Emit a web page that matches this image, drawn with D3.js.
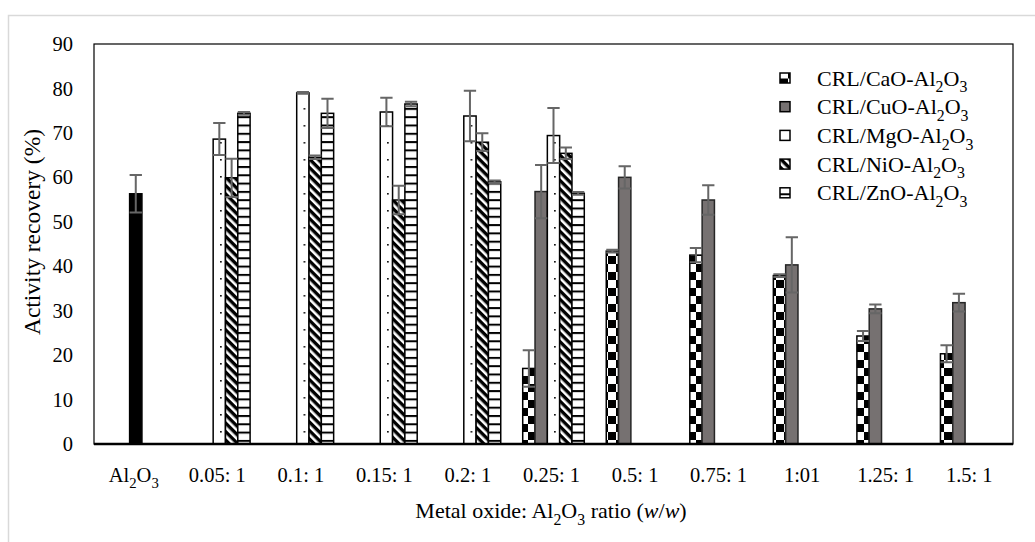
<!DOCTYPE html>
<html>
<head>
<meta charset="utf-8">
<script src="https://cdn.jsdelivr.net/npm/d3@7"></script>
<style>
  body { margin: 0; background: #fff; }
  svg { display: block; font-family: "Liberation Serif", "Times New Roman", serif; }
</style>
</head>
<body>
<div id="chart"></div>
<script>
// categories along the x axis
var categories = ["Al2O3", "0.05: 1", "0.1: 1", "0.15: 1", "0.2: 1", "0.25: 1", "0.5: 1", "0.75: 1", "1:01", "1.25: 1", "1.5: 1"];
var seriesNames = ["CRL/CaO-Al2O3", "CRL/CuO-Al2O3", "CRL/MgO-Al2O3", "CRL/NiO-Al2O3", "CRL/ZnO-Al2O3"];

// activity recovery (%) per series, null = no bar
var caoValues = [null, null, null, null, null, 17.0, 43.4, 42.5, 37.9, 24.3, 20.3];
var caoErrors = [null, null, null, null, null, 4.1, 0.3, 1.6, 0.3, 1.1, 1.9];
var cuoValues = [null, null, null, null, null, 56.8, 60.0, 54.9, 40.3, 30.4, 31.8];
var cuoErrors = [null, null, null, null, null, 6.0, 2.5, 3.3, 6.2, 1.0, 2.0];
var mgoValues = [null, 68.6, 79.0, 74.7, 73.8, 69.4, null, null, null, null, null];
var mgoErrors = [null, 3.6, 0.2, 3.2, 5.7, 6.2, null, null, null, null, null];
var nioValues = [null, 59.9, 64.5, 54.9, 67.9, 65.4, null, null, null, null, null];
var nioErrors = [null, 4.3, 0.4, 3.2, 2.0, 1.3, null, null, null, null, null];
var znoValues = [null, 74.4, 74.4, 76.5, 59.0, 56.4, null, null, null, null, null];
var znoErrors = [null, 0.3, 3.3, 0.5, 0.3, 0.3, null, null, null, null, null];
// plain Al2O3 support
var al2o3Value = 56.3;
var al2o3Error = 4.2;

var yTicks = [0, 10, 20, 30, 40, 50, 60, 70, 80, 90];

var allValues = [caoValues, cuoValues, mgoValues, nioValues, znoValues];
var allErrors = [caoErrors, cuoErrors, mgoErrors, nioErrors, znoErrors];
var fills = ["url(#checker)", "#767171", "url(#dots)", "url(#diag)", "url(#hlines)"];

var w = 1035, h = 542;
var margin = {top: 44, right: 22, bottom: 98, left: 94};

var svg = d3.select("#chart").append("svg")
  .attr("width", w)
  .attr("height", h);

// patterns
var defs = svg.append("defs");
var p = defs.append("pattern").attr("id", "checker").attr("patternUnits", "userSpaceOnUse")
  .attr("width", 16).attr("height", 16);
p.append("rect").attr("width", 16).attr("height", 16).attr("fill", "#fff");
p.append("rect").attr("width", 8).attr("height", 8).attr("fill", "#000");
p.append("rect").attr("x", 8).attr("y", 8).attr("width", 8).attr("height", 8).attr("fill", "#000");

p = defs.append("pattern").attr("id", "dots").attr("patternUnits", "userSpaceOnUse")
  .attr("width", 16.7).attr("height", 17);
p.append("rect").attr("width", 16.7).attr("height", 17).attr("fill", "#fff");
p.append("rect").attr("x", 3).attr("y", 6).attr("width", 1.6).attr("height", 1.6).attr("fill", "#000");

p = defs.append("pattern").attr("id", "diag").attr("patternUnits", "userSpaceOnUse")
  .attr("width", 6).attr("height", 6).attr("patternTransform", "rotate(-45)");
p.append("rect").attr("width", 6).attr("height", 6).attr("fill", "#000");
p.append("rect").attr("width", 2.6).attr("height", 6).attr("fill", "#fff");

p = defs.append("pattern").attr("id", "hlines").attr("patternUnits", "userSpaceOnUse")
  .attr("width", 8).attr("height", 8.3);
p.append("rect").attr("width", 8).attr("height", 8.3).attr("fill", "#fff");
p.append("rect").attr("y", 0).attr("width", 8).attr("height", 2).attr("fill", "#000");

// helper for chemical formulas: a digit after a letter becomes a subscript
function chem(sel, str, fs) {
  var parts = str.split(/(?<=[A-Za-z])(\d)/);
  parts.forEach(function (part, i) {
    if (part === "") return;
    if (i % 2 === 1) {
      sel.append("tspan").attr("dy", fs * 0.3).attr("font-size", fs * 0.72).text(part);
    } else {
      var t = sel.append("tspan").text(part);
      if (i > 0) t.attr("dy", -fs * 0.3);
    }
  });
}

// outer chart border
svg.append("path")
  .attr("d", "M8.5," + h + "V15.5H" + w)
  .attr("fill", "none").attr("stroke", "#d9d9d9").attr("stroke-width", 1.5);

var x0 = d3.scaleBand()
  .domain(categories)
  .range([margin.left, w - margin.right]);

var groupW = x0.bandwidth() * 0.737;
var x1 = d3.scaleBand()
  .domain(seriesNames)
  .range([(x0.bandwidth() - groupW) / 2, (x0.bandwidth() + groupW) / 2]);

var y = d3.scaleLinear()
  .domain([0, 90])
  .range([h - margin.bottom, margin.top]);

// plot frame
svg.append("rect")
  .attr("x", margin.left).attr("y", margin.top)
  .attr("width", w - margin.left - margin.right)
  .attr("height", h - margin.top - margin.bottom)
  .attr("fill", "none").attr("stroke", "#000").attr("stroke-width", 1.2);

// y axis labels
var yAxis = svg.append("g")
  .attr("transform", "translate(" + (margin.left - 21) + ",0)")
  .call(d3.axisLeft(y).tickValues(yTicks).tickSize(0).tickPadding(0));
yAxis.select(".domain").remove();
yAxis.selectAll("text")
  .attr("font-family", "Liberation Serif").attr("font-size", 20.5).attr("fill", "#000");

// bars
var bars = [];
seriesNames.forEach(function (s, si) {
  categories.forEach(function (c, ci) {
    var v = allValues[si][ci];
    if (v == null) return;
    bars.push({cat: c, series: s, value: v, err: allErrors[si][ci], fill: fills[si]});
  });
});

var barG = svg.append("g");
barG.selectAll("rect.bar")
  .data(bars)
  .enter().append("rect")
  .attr("class", "bar")
  .attr("x", function (d) { return x0(d.cat) + x1(d.series); })
  .attr("y", function (d) { return y(d.value); })
  .attr("width", x1.bandwidth())
  .attr("height", function (d) { return y(0) - y(d.value); })
  .attr("fill", function (d) { return d.fill; })
  .attr("stroke", function (d) { return d.fill === "#767171" ? "#262626" : "#000"; })
  .attr("stroke-width", 1.5);

// Al2O3 alone, black bar in the middle slot
var alBar = {cat: categories[0], series: seriesNames[2], value: al2o3Value, err: al2o3Error};
barG.append("rect")
  .attr("x", x0(alBar.cat) + x1(alBar.series))
  .attr("y", y(alBar.value))
  .attr("width", x1.bandwidth())
  .attr("height", y(0) - y(alBar.value))
  .attr("fill", "#000").attr("stroke", "#000").attr("stroke-width", 1.5);

// error bars
var errData = bars.concat([alBar]);
var errG = svg.append("g").attr("stroke", "#666").attr("stroke-width", 2).attr("fill", "none");
errData.forEach(function (d) {
  var cx = x0(d.cat) + x1(d.series) + x1.bandwidth() / 2;
  var hw = x1.bandwidth() / 2;
  var top = y(d.value + d.err), bot = y(d.value - d.err);
  errG.append("path")
    .attr("d", "M" + cx + "," + top + "V" + bot +
      "M" + (cx - hw) + "," + top + "H" + (cx + hw) +
      "M" + (cx - hw) + "," + bot + "H" + (cx + hw));
});

// x axis line
svg.append("line")
  .attr("x1", margin.left).attr("x2", w - margin.right)
  .attr("y1", y(0)).attr("y2", y(0))
  .attr("stroke", "#000").attr("stroke-width", 2.5);

// x tick labels
categories.forEach(function (c) {
  var t = svg.append("text")
    .attr("x", x0(c) + x0.bandwidth() / 2 - 2)
    .attr("y", 482)
    .attr("text-anchor", "middle")
    .attr("font-size", 20.5);
  chem(t, c, 20.5);
});

// axis titles
var xt = svg.append("text")
  .attr("x", 551).attr("y", 518)
  .attr("text-anchor", "middle")
  .attr("font-size", 22);
chem(xt, "Metal oxide: Al2O3 ratio (", 22);
xt.append("tspan").attr("font-style", "italic").text("w");
xt.append("tspan").text("/");
xt.append("tspan").attr("font-style", "italic").text("w");
xt.append("tspan").text(")");

svg.append("text")
  .attr("transform", "translate(40,232) rotate(-90)")
  .attr("text-anchor", "middle")
  .attr("font-size", 23.5)
  .text("Activity recovery (%)");

// legend
var legend = svg.append("g").attr("transform", "translate(780,78.5)");
seriesNames.forEach(function (s, i) {
  var row = legend.append("g").attr("transform", "translate(0," + (i * 28.7) + ")");
  row.append("rect")
    .attr("x", 0).attr("y", -5.5).attr("width", 10).attr("height", 10)
    .attr("fill", fills[i]).attr("stroke", "#000").attr("stroke-width", 1.5);
  var t = row.append("text")
    .attr("x", 37).attr("y", 7)
    .attr("font-size", 22);
  chem(t, s, 22);
});
</script>
</body>
</html>
